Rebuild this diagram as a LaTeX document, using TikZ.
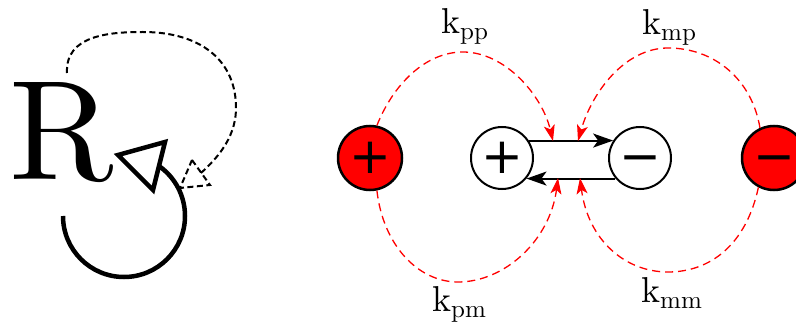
\documentclass[tikz,border=0pt]{standalone}
\usepackage{fontspec}
\newfontfamily\signfont{DejaVu Sans}
\newfontfamily\tenfont{lmroman10-regular.otf}
\usetikzlibrary{arrows.meta}
\newcommand{\krate}[1]{k\raisebox{-6pt}{\fontsize{25}{25}\selectfont #1}}
\begin{document}
\begin{tikzpicture}[x=1pt,y=-1pt,
  ion/.style={circle,draw=black,line width=2pt,minimum size=62pt,inner sep=0pt,fill=white,
    font=\signfont\fontsize{50}{50}\selectfont},
  redion/.style={ion,fill=red,line width=2.5pt,minimum size=64pt},
  rate/.style={red,dash pattern=on 8pt off 5pt,line width=1.3pt,
    -{Stealth[length=16pt,width=11pt,inset=4pt]}},
  bar/.style={line width=2pt,-{Stealth[length=20pt,width=14pt,inset=5pt]}},
  lab/.style={font=\tenfont\fontsize{36}{40}\selectfont,inner sep=0pt,anchor=base west},
  thickline/.style={line width=4.5pt,line join=miter},
  dashline/.style={line width=2pt,dash pattern=on 6pt off 3.5pt}
]
\useasboundingbox (0,0) rectangle (796,326);
% left part
\node[font=\tenfont\fontsize{142}{150}\selectfont, inner sep=0pt, anchor=base west] (R) at (9,180) {R};
\draw[thickline] (63,216) arc[start angle=180, end angle=-55, radius=61];
\draw[thickline, fill=white] (118,155) -- (165,142) -- (153,190) -- cycle;
\draw[dashline] (67,73) .. controls (65,35) and (110,32) .. (143,32)
  .. controls (200,32) and (237,60) .. (236,110)
  .. controls (235,140) and (215,160) .. (201,173);
\draw[dashline] (192,160) -- (210,185) -- (180,188) -- cycle;
% right part
\coordinate (tpp) at (553,141);
\coordinate (tmp) at (578,141);
\coordinate (tpm) at (558,178);
\coordinate (tmm) at (580,178);
\node[redion] (rp) at (370,158) {+};
\node[redion] (rm) at (774,158) {\vphantom{+}\symbol{"2212}};
\node[ion] (pw) at (502,158) {+};
\node[ion] (mw) at (640,158) {\vphantom{+}\symbol{"2212}};
\draw[bar] (pw.33) -- (mw.147);
\draw[bar] (mw.-140) -- (pw.-40);
\draw[rate] (rp.78) .. controls (393,85) and (425,52) .. (463,52)
  .. controls (505,52) and (542,95) .. (tpp);
\draw[rate] (rm.115) .. controls (752,80) and (715,48) .. (668,48)
  .. controls (625,48) and (592,92) .. (tmp);
\draw[rate] (rp.-78) .. controls (383,245) and (418,282) .. (458,282)
  .. controls (505,282) and (550,240) .. (tpm);
\draw[rate] (rm.-118) .. controls (746,245) and (710,272) .. (668,272)
  .. controls (625,272) and (588,240) .. (tmm);
\node[lab] (kpp) at (441,34) {\krate{pp}};
\node[lab] (kmp) at (642,35) {\krate{mp}};
\node[lab] (kpm) at (432,311) {\krate{pm}};
\node[lab] (kmm) at (641,302) {\krate{mm}};
\end{tikzpicture}
\end{document}
